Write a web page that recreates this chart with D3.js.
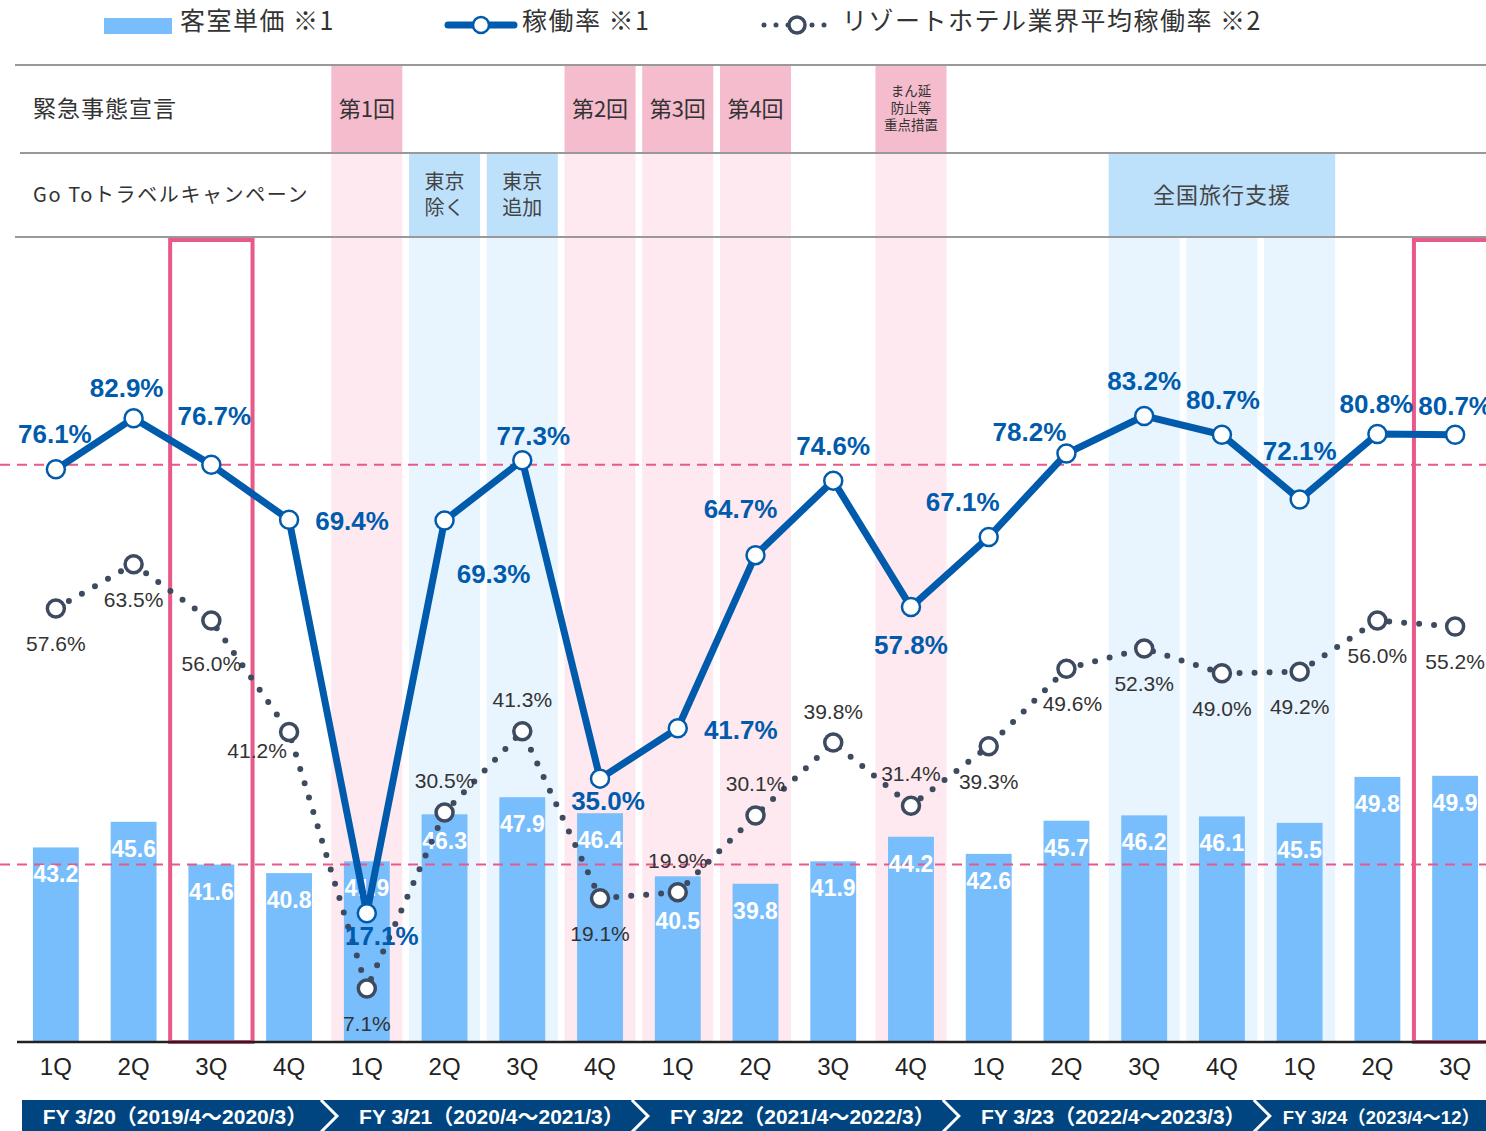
<!DOCTYPE html>
<html>
<head>
<meta charset="utf-8">
<script src="https://cdn.jsdelivr.net/npm/d3@7"></script>
<style>
  body { margin: 0; background: #fff; }
  svg { display: block; }
  text { font-family: "Liberation Sans", Arial, "Noto Sans CJK JP", sans-serif; }
  .jp { font-family: "Noto Sans CJK JP", "Noto Sans", sans-serif; }
</style>
</head>
<body>
<svg width="1486" height="1131"></svg>
<script>
// ---- data ----
var quarters = ["1Q","2Q","3Q","4Q","1Q","2Q","3Q","4Q","1Q","2Q","3Q","4Q","1Q","2Q","3Q","4Q","1Q","2Q","3Q"];
var roomRate = [43.2,45.6,41.6,40.8,41.9,46.3,47.9,46.4,40.5,39.8,41.9,44.2,42.6,45.7,46.2,46.1,45.5,49.8,49.9];
var occupancy = [76.1,82.9,76.7,69.4,17.1,69.3,77.3,35.0,41.7,64.7,74.6,57.8,67.1,78.2,83.2,80.7,72.1,80.8,80.7];
var industryOcc = [57.6,63.5,56.0,41.2,7.1,30.5,41.3,19.1,19.9,30.1,39.8,31.4,39.3,49.6,52.3,49.0,49.2,56.0,55.2];

var fyLabels = ["FY 3/20（2019/4～2020/3）","FY 3/21（2020/4～2021/3）","FY 3/22（2021/4～2022/3）","FY 3/23（2022/4～2023/3）","FY 3/24（2023/4～12）"];
var fyQuarterCount = [4,4,4,4,3];

var emergencyIdx = [4,7,8,9,11];
var emergencyLabels = [["第1回"],["第2回"],["第3回"],["第4回"],["まん延","防止等","重点措置"]];
var gotoIdx = [5,6];
var gotoLabels = [["東京","除く"],["東京","追加"]];
var supportIdx = [14,15,16];
var supportLabel = "全国旅行支援";
var highlightIdx = [2,18];
var baseIdx = 2; // reference quarter for dashed lines

// ---- layout ----
var svg = d3.select("svg");
var idx = d3.range(quarters.length);
var x = d3.scaleBand().domain(idx).range([17, 1494]).padding(0);
var step = x.step();
var cx = function(i) { return x(i) + step / 2; };
var yPct = d3.scaleLinear().domain([0, 100]).range([1042, 289.5]);
var yBar = d3.scaleLinear().domain([25, 95]).range([1042, 293.7]);

var chartTop = 237, chartBottom = 1042;
var bandW = step * 0.914;
var pinkDark = "#f5bccd", pinkLight = "#fde9ef", blueDark = "#bde0fb", blueLight = "#e8f4fe";
var lineBlue = "#005bac", grayDot = "#3d4a5f", accent = "#e8598a";

// column bands (header + chart)
emergencyIdx.forEach(function(i, k) {
	svg.append("rect").attr("x", cx(i) - bandW / 2).attr("y", 65).attr("width", bandW).attr("height", 88).attr("fill", pinkDark);
	svg.append("rect").attr("x", cx(i) - bandW / 2).attr("y", 153).attr("width", bandW).attr("height", chartBottom - 153).attr("fill", pinkLight);
	var lines = emergencyLabels[k];
	var small = lines.length > 1;
	lines.forEach(function(t, j) {
		svg.append("text").attr("class", "jp")
			.attr("x", cx(i)).attr("y", small ? 96 + j * 17 : 117)
			.attr("text-anchor", "middle").attr("font-size", small ? 13.5 : 22)
			.attr("fill", "#333").text(t);
	});
});
gotoIdx.forEach(function(i, k) {
	svg.append("rect").attr("x", cx(i) - bandW / 2).attr("y", 153).attr("width", bandW).attr("height", 84).attr("fill", blueDark);
	svg.append("rect").attr("x", cx(i) - bandW / 2).attr("y", chartTop).attr("width", bandW).attr("height", chartBottom - chartTop).attr("fill", blueLight);
	gotoLabels[k].forEach(function(t, j) {
		svg.append("text").attr("class", "jp")
			.attr("x", cx(i)).attr("y", 189 + j * 26)
			.attr("text-anchor", "middle").attr("font-size", 20)
			.attr("fill", "#444").text(t);
	});
});
supportIdx.forEach(function(i) {
	svg.append("rect").attr("x", cx(i) - bandW / 2).attr("y", chartTop).attr("width", bandW).attr("height", chartBottom - chartTop).attr("fill", blueLight);
});
var s0 = cx(supportIdx[0]) - bandW / 2, s1 = cx(supportIdx[supportIdx.length - 1]) + bandW / 2;
svg.append("rect").attr("x", s0).attr("y", 153).attr("width", s1 - s0).attr("height", 84).attr("fill", blueDark);
svg.append("text").attr("class", "jp").attr("x", (s0 + s1) / 2).attr("y", 203)
	.attr("text-anchor", "middle").attr("font-size", 22).attr("letter-spacing", 1).attr("fill", "#444").text(supportLabel);

// header rows
svg.append("line").attr("x1", 15).attr("x2", 1486).attr("y1", 65).attr("y2", 65).attr("stroke", "#999").attr("stroke-width", 2);
svg.append("line").attr("x1", 20).attr("x2", 1486).attr("y1", 153).attr("y2", 153).attr("stroke", "#999").attr("stroke-width", 2);
svg.append("line").attr("x1", 15).attr("x2", 1486).attr("y1", 237).attr("y2", 237).attr("stroke", "#999").attr("stroke-width", 2);
svg.append("text").attr("class", "jp").attr("x", 33).attr("y", 117).attr("font-size", 23).attr("letter-spacing", 1).attr("fill", "#333").text("緊急事態宣言");
svg.append("text").attr("class", "jp").attr("x", 33).attr("y", 202).attr("font-size", 20).attr("letter-spacing", 1.6).attr("fill", "#333").text("Go Toトラベルキャンペーン");

// bars
var barW = step * 0.59;
svg.selectAll("rect.bar").data(roomRate).enter().append("rect")
	.attr("class", "bar")
	.attr("x", function(d, i) { return cx(i) - barW / 2; })
	.attr("y", function(d) { return yBar(d); })
	.attr("width", barW)
	.attr("height", function(d) { return chartBottom - yBar(d); })
	.attr("fill", "#78bdfc");

// dashed reference lines
[yPct(occupancy[baseIdx]), yBar(roomRate[baseIdx])].forEach(function(yy) {
	svg.append("line").attr("x1", 0).attr("x2", 1486).attr("y1", yy).attr("y2", yy)
		.attr("stroke", accent).attr("stroke-width", 2).attr("stroke-dasharray", "10 7");
});

// highlight boxes
highlightIdx.forEach(function(i) {
	svg.append("rect").attr("x", cx(i) - step * 0.53).attr("y", 240)
		.attr("width", step * 1.06).attr("height", chartBottom - 240)
		.attr("fill", "none").attr("stroke", accent).attr("stroke-width", 4);
});

// bar labels
svg.selectAll("text.barlab").data(roomRate).enter().append("text")
	.attr("class", "barlab")
	.attr("x", function(d, i) { return cx(i); })
	.attr("y", function(d, i) { return yBar(d) + (i === 8 ? 53 : 35); })
	.attr("text-anchor", "middle").attr("font-size", 23).attr("font-weight", "bold")
	.attr("fill", "#fff").text(function(d) { return d.toFixed(1); });

// axis
svg.append("line").attr("x1", 17).attr("x2", 1486).attr("y1", chartBottom).attr("y2", chartBottom).attr("stroke", "#222").attr("stroke-width", 2.5);
var xAxis = d3.axisBottom(x).tickSize(0).tickPadding(16).tickFormat(function(i) { return quarters[i]; });
var ax = svg.append("g").attr("transform", "translate(0," + chartBottom + ")").call(xAxis);
ax.select(".domain").remove();
ax.selectAll("text").attr("font-size", 24).attr("fill", "#222").attr("font-family", "Liberation Sans, Arial, sans-serif");

// industry dotted line
var lineInd = d3.line().x(function(d, i) { return cx(i); }).y(function(d) { return yPct(d); });
svg.append("path").datum(industryOcc).attr("d", lineInd)
	.attr("fill", "none").attr("stroke", grayDot).attr("stroke-width", 6)
	.attr("stroke-linecap", "round").attr("stroke-dasharray", "0 15");

// occupancy line
var lineOcc = d3.line().x(function(d, i) { return cx(i); }).y(function(d) { return yPct(d); });
svg.append("path").datum(occupancy).attr("d", lineOcc)
	.attr("fill", "none").attr("stroke", lineBlue).attr("stroke-width", 7).attr("stroke-linejoin", "round");

svg.selectAll("circle.ind").data(industryOcc).enter().append("circle")
	.attr("class", "ind").attr("cx", function(d, i) { return cx(i); }).attr("cy", function(d) { return yPct(d); })
	.attr("r", 8.5).attr("fill", "#fff").attr("stroke", grayDot).attr("stroke-width", 3.5);
svg.selectAll("circle.occ").data(occupancy).enter().append("circle")
	.attr("class", "occ").attr("cx", function(d, i) { return cx(i); }).attr("cy", function(d) { return yPct(d); })
	.attr("r", 9).attr("fill", "#fff").attr("stroke", lineBlue).attr("stroke-width", 2.5);

// label offsets (centre of label relative to point)
var occOff = [[-1,-35],[-7,-30],[3,-49],[63,1],[15,23],[49,53],[11,-24],[8,22],[63,2],[-15,-46],[0,-35],[0,38],[-26,-35],[-37,-22],[0,-35],[1,-35],[0,-48],[-1,-30],[0,-29]];
var indOff = [[0,35],[0,36],[0,43],[-32,19],[0,35],[0,-31],[0,-31],[0,36],[0,-31],[0,-31],[0,-31],[0,-32],[0,36],[6,35],[0,36],[0,36],[0,35],[0,35],[0,35]];

svg.selectAll("text.indlab").data(industryOcc).enter().append("text")
	.attr("class", "indlab")
	.attr("x", function(d, i) { return cx(i) + indOff[i][0]; })
	.attr("y", function(d, i) { return yPct(d) + indOff[i][1] + 7; })
	.attr("text-anchor", "middle").attr("font-size", 21).attr("fill", "#333")
	.text(function(d) { return d.toFixed(1) + "%"; });

svg.selectAll("text.occlab").data(occupancy).enter().append("text")
	.attr("class", "occlab")
	.attr("x", function(d, i) { return cx(i) + occOff[i][0]; })
	.attr("y", function(d, i) { return yPct(d) + occOff[i][1] + 9; })
	.attr("text-anchor", "middle").attr("font-size", 26).attr("font-weight", "bold").attr("fill", lineBlue)
	.text(function(d) { return d.toFixed(1) + "%"; });

// fiscal year banner
var bannerY = 1100, bannerH = 32;
svg.append("rect").attr("x", 22).attr("y", bannerY).attr("width", 1464).attr("height", bannerH).attr("fill", "#00457f");
var start = 0, prevX = 22;
fyQuarterCount.forEach(function(n, k) {
	var end = start + n;
	var last = end >= quarters.length;
	var bx = last ? 1486 : x(end);
	svg.append("text").attr("x", (prevX + bx) / 2 + (k === 0 ? 0 : 8)).attr("y", bannerY + 24)
		.attr("text-anchor", "middle").attr("font-size", last ? 18.5 : 21).attr("font-weight", "bold").attr("fill", "#fff")
		.text(fyLabels[k]);
	if (!last)
		svg.append("polyline")
			.attr("points", [[bx - 7, bannerY], [bx + 9, bannerY + 16], [bx - 7, bannerY + bannerH]].join(" "))
			.attr("fill", "none").attr("stroke", "#fff").attr("stroke-width", 3);
	prevX = bx;
	start = end;
});

// legend
svg.append("rect").attr("x", 104).attr("y", 18).attr("width", 68).attr("height", 16).attr("fill", "#78bdfc");
svg.append("text").attr("class", "jp").attr("x", 180).attr("y", 30).attr("font-size", 25).attr("letter-spacing", 1.5).attr("fill", "#333").text("客室単価 ※1");
svg.append("line").attr("x1", 448).attr("x2", 514).attr("y1", 25).attr("y2", 25).attr("stroke", lineBlue).attr("stroke-width", 7).attr("stroke-linecap", "round");
svg.append("circle").attr("cx", 481).attr("cy", 25).attr("r", 8).attr("fill", "#fff").attr("stroke", lineBlue).attr("stroke-width", 2.5);
svg.append("text").attr("class", "jp").attr("x", 522).attr("y", 30).attr("font-size", 25).attr("letter-spacing", 1.5).attr("fill", "#333").text("稼働率 ※1");
svg.append("line").attr("x1", 764).attr("x2", 828).attr("y1", 25).attr("y2", 25).attr("stroke", grayDot).attr("stroke-width", 5)
	.attr("stroke-linecap", "round").attr("stroke-dasharray", "0 12");
svg.append("circle").attr("cx", 797).attr("cy", 25).attr("r", 8).attr("fill", "#fff").attr("stroke", grayDot).attr("stroke-width", 3.5);
svg.append("text").attr("class", "jp").attr("x", 842).attr("y", 30).attr("font-size", 25).attr("letter-spacing", 1.5).attr("fill", "#333").text("リゾートホテル業界平均稼働率 ※2");
</script>
</body>
</html>
